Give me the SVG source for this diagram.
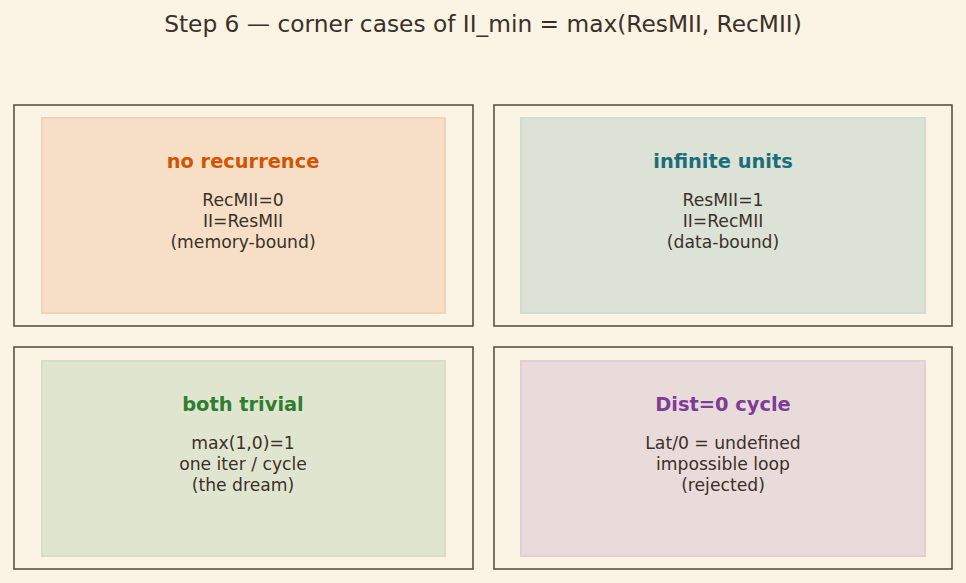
<svg xmlns="http://www.w3.org/2000/svg" width="966" height="583" viewBox="0 0 966 583">
<style>
.outer{fill:none;stroke:#5b5244;stroke-width:1.6}
.inner{stroke-width:2}
text{font-family:"DejaVu Sans",sans-serif;text-anchor:middle}
.title{font-size:23.3px;fill:#3a3028}
.head{font-size:19.4px;font-weight:bold}
.body{font-size:17.2px;fill:#3a3028}
</style>
<rect width="966" height="583" fill="#fbf3e4"/>
<text class="title" x="483" y="32">Step 6 — corner cases of II_min = max(ResMII, RecMII)</text>
<g id="no-recurrence">
<rect class="outer" x="14" y="105" width="459" height="221"/>
<rect class="inner" x="42" y="118" width="403" height="195" fill="#f6dfc6" stroke="#f0d4b6"/>
<text class="head" x="243" y="168" fill="#d35400">no recurrence</text>
<text class="body" x="243" y="206">RecMII=0</text>
<text class="body" x="243" y="227">II=ResMII</text>
<text class="body" x="243" y="248">(memory-bound)</text>
</g>
<g id="infinite-units">
<rect class="outer" x="494" y="105" width="458" height="221"/>
<rect class="inner" x="521" y="118" width="404" height="195" fill="#dde2d6" stroke="#cfddd3"/>
<text class="head" x="723" y="168" fill="#1a6e7a">infinite units</text>
<text class="body" x="723" y="206">ResMII=1</text>
<text class="body" x="723" y="227">II=RecMII</text>
<text class="body" x="723" y="248">(data-bound)</text>
</g>
<g id="both-trivial">
<rect class="outer" x="14" y="347" width="459" height="222"/>
<rect class="inner" x="42" y="361" width="403" height="195" fill="#e0e5cf" stroke="#d4dfc4"/>
<text class="head" x="243" y="411" fill="#2e7d32">both trivial</text>
<text class="body" x="243" y="449">max(1,0)=1</text>
<text class="body" x="243" y="470">one iter / cycle</text>
<text class="body" x="243" y="491">(the dream)</text>
</g>
<g id="dist0-cycle">
<rect class="outer" x="494" y="347" width="458" height="222"/>
<rect class="inner" x="521" y="361" width="404" height="195" fill="#e9dbda" stroke="#e2cfd3"/>
<text class="head" x="723" y="411" fill="#7d3c98">Dist=0 cycle</text>
<text class="body" x="723" y="449">Lat/0 = undefined</text>
<text class="body" x="723" y="470">impossible loop</text>
<text class="body" x="723" y="491">(rejected)</text>
</g>
<g id="connectors"/>
</svg>
